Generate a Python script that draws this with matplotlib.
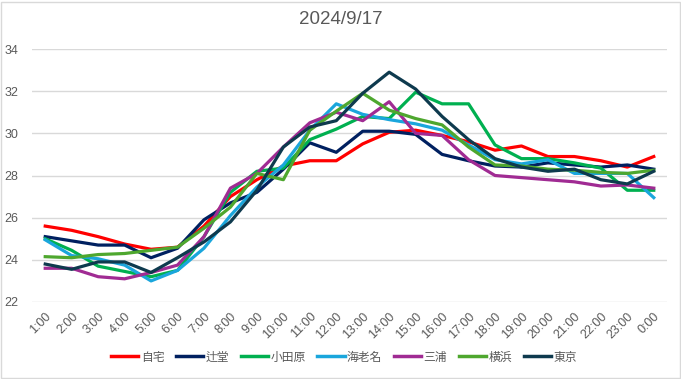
import matplotlib
matplotlib.use("Agg")
import matplotlib.pyplot as plt
from matplotlib.patches import Rectangle

plt.rcParams['font.family'] = ['Liberation Sans', 'Noto Sans CJK JP', 'DejaVu Sans']

hours = ["1:00", "2:00", "3:00", "4:00", "5:00", "6:00", "7:00", "8:00",
         "9:00", "10:00", "11:00", "12:00", "13:00", "14:00", "15:00", "16:00",
         "17:00", "18:00", "19:00", "20:00", "21:00", "22:00", "23:00", "0:00"]

jitaku   = [25.6, 25.4, 25.1, 24.75, 24.5, 24.6, 25.6, 27.0, 27.8, 28.45, 28.7, 28.7,
            29.5, 30.05, 30.15, 29.9, 29.6, 29.2, 29.4, 28.9, 28.9, 28.7, 28.4, 28.9]
tsujido  = [25.1, 24.9, 24.7, 24.7, 24.1, 24.55, 25.9, 26.7, 27.2, 28.3, 29.55, 29.1,
            30.1, 30.1, 29.95, 29.0, 28.7, 28.45, 28.4, 28.6, 28.5, 28.4, 28.5, 28.3]
odawara  = [25.0, 24.45, 23.7, 23.45, 23.2, 23.5, 25.1, 27.2, 28.2, 28.35, 29.7, 30.2,
            30.8, 30.7, 31.95, 31.4, 31.4, 29.45, 28.8, 28.8, 28.6, 28.35, 27.3, 27.3]
ebina    = [24.95, 24.2, 24.05, 23.75, 23.0, 23.5, 24.55, 26.1, 27.45, 28.5, 30.15, 31.4,
            30.9, 30.65, 30.45, 30.15, 29.45, 28.75, 28.55, 28.75, 28.1, 28.1, 28.1, 26.95]
miura    = [23.6, 23.6, 23.2, 23.1, 23.4, 23.75, 25.1, 27.4, 28.1, 29.35, 30.5, 31.0,
            30.6, 31.5, 30.0, 29.9, 28.75, 28.0, 27.9, 27.8, 27.7, 27.5, 27.55, 27.4]
yokohama = [24.15, 24.1, 24.25, 24.3, 24.45, 24.6, 25.5, 26.5, 28.1, 27.8, 30.15, 31.05,
            31.9, 31.1, 30.7, 30.4, 29.35, 28.5, 28.45, 28.3, 28.25, 28.15, 28.1, 28.25]
tokyo    = [23.8, 23.55, 23.9, 23.9, 23.4, 24.1, 24.85, 25.8, 27.3, 29.35, 30.3, 30.6,
            31.9, 32.9, 32.1, 30.8, 29.7, 28.8, 28.4, 28.2, 28.3, 27.8, 27.6, 28.2]

names = ["自宅", "辻堂", "小田原", "海老名", "三浦", "横浜", "東京"]
series = [jitaku, tsujido, odawara, ebina, miura, yokohama, tokyo]
colors = ["#FF0000", "#002060", "#00B050", "#1AA6DC", "#A02B93", "#4EA72E", "#0E3A4E"]

txt = "#595959"
fig = plt.figure(figsize=(6.81, 3.79), dpi=100)
ax = fig.add_axes([32/681, 1 - 302/379, 635/681, 253/379])

x = list(range(len(hours)))
for name, vals, c in zip(names, series, colors):
    ax.plot(x, vals, color=c, lw=2.3, label=name, solid_joinstyle="round")

ax.set_xlim(-0.5, len(hours) - 0.5)
ax.set_ylim(22, 34)
ax.set_yticks(range(22, 35, 2))
ax.grid(axis="y", color="#D9D9D9", lw=1)
ax.set_axisbelow(True)
for s in ax.spines.values():
    s.set_visible(False)
ax.tick_params(length=0, colors=txt, labelsize=9)
ax.tick_params(axis="y", pad=10)
ax.set_xticks(x)
ax.set_xticklabels(hours, rotation=45, ha="right", va="top", rotation_mode="anchor")
ax.tick_params(axis="x", pad=6)

fig.text(0.5, 1 - 20/379, "2024/9/17", ha="center", va="center", fontsize=13.5, color=txt)

leg = fig.legend(loc="center", bbox_to_anchor=(0.505, 1 - 357/379), ncol=7, frameon=False,
                 handlelength=2.3, handletextpad=0.2, columnspacing=1.0,
                 prop={"family": ["Noto Sans CJK JP"], "size": 8.5})
for t in leg.get_texts():
    t.set_color(txt)
for line in leg.get_lines():
    line.set_linewidth(2.5)

fig.patches.append(Rectangle((0.5/681, 1.5/379), 679/681, 376/379, transform=fig.transFigure,
                             fill=False, edgecolor="#D9D9D9", lw=1))

fig.savefig("out.png", dpi=100)
